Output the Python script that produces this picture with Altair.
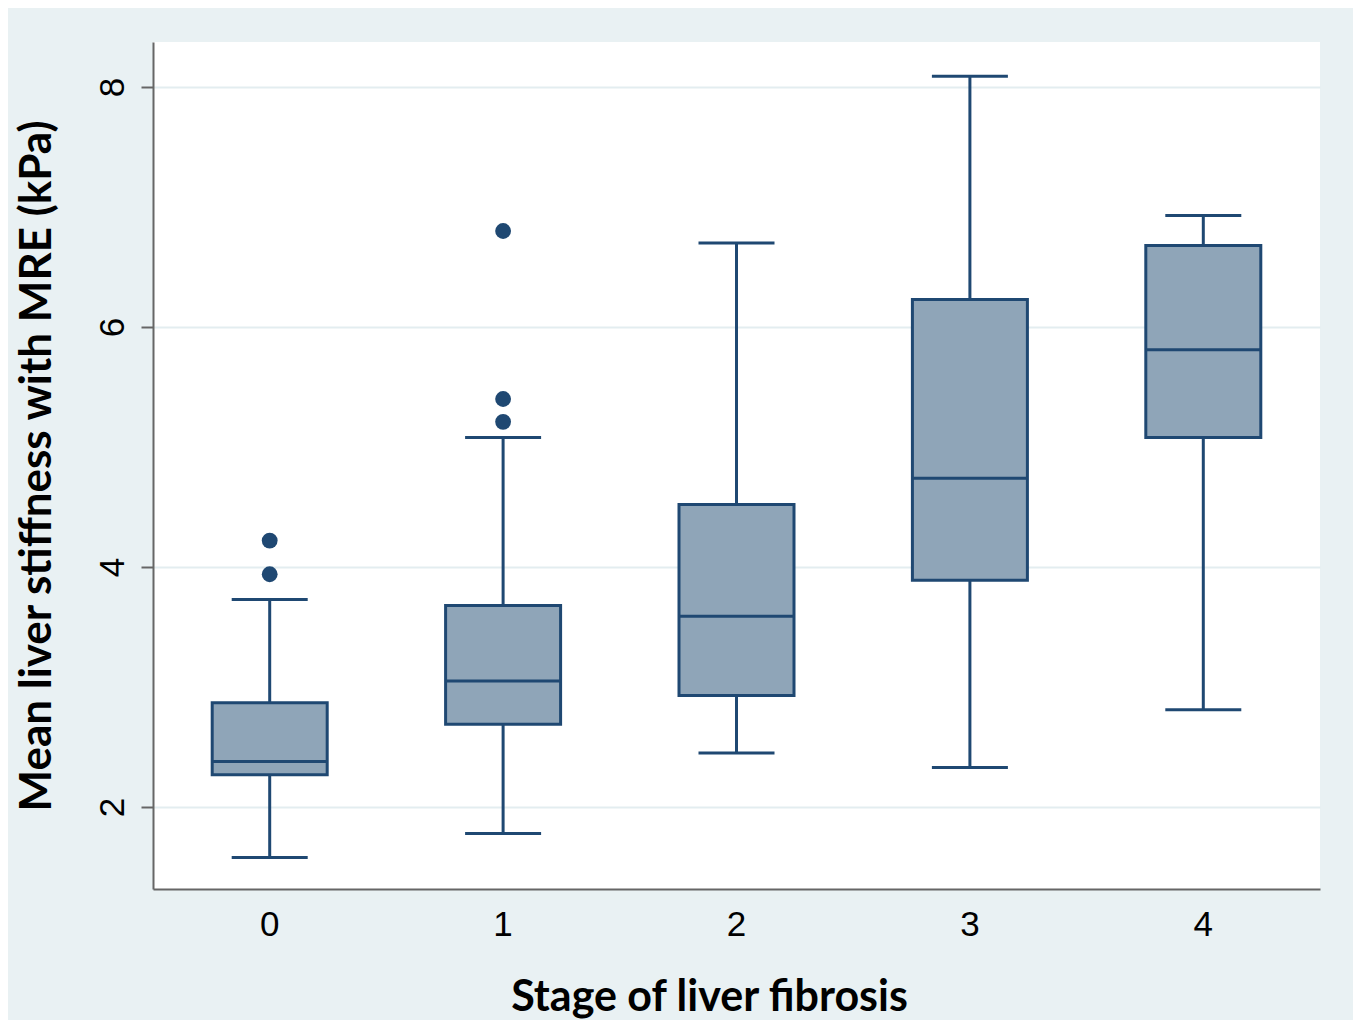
import altair as alt
import pandas as pd

# ---- data ----
stages = ["0", "1", "2", "3", "4"]
whisker_low = [1.58, 1.78, 2.45, 2.33, 2.81]
q1 = [2.27, 2.69, 2.93, 3.89, 5.08]
median = [2.38, 3.05, 3.59, 4.74, 5.81]
q3 = [2.87, 3.68, 4.52, 6.23, 6.68]
whisker_high = [3.73, 5.08, 6.70, 8.09, 6.93]

outlier_stage = ["0", "0", "1", "1", "1"]
outlier_value = [3.94, 4.22, 5.21, 5.40, 6.80]

y_ticks = [2, 4, 6, 8]

box_df = pd.DataFrame({
    "stage": stages, "low": whisker_low, "q1": q1,
    "median": median, "q3": q3, "high": whisker_high,
})
out_df = pd.DataFrame({"stage": outlier_stage, "value": outlier_value})

DARK = "#1f4872"
FILL = "#8fa5b8"
TITLE_FONT = "Lato"

x_enc = alt.X(
    "stage:N",
    scale=alt.Scale(type="band", domain=stages, paddingInner=0, paddingOuter=0),
    axis=alt.Axis(
        title="Stage of liver fibrosis", labelAngle=0, ticks=False,
        labelFontSize=35, labelFont="Liberation Sans", labelColor="#000000",
        labelPadding=18, titleFontSize=43, titleFont=TITLE_FONT,
        titleFontWeight="bold", titleColor="#000000", titlePadding=34,
        titleX=556, titleAlign="center",
        domainColor="#666666", domainWidth=2, grid=False,
    ),
)
y_scale = alt.Scale(domain=[1.317, 8.375], nice=False, zero=False)
y_axis = alt.Axis(
    title="Mean liver stiffness with MRE (kPa)", values=y_ticks, format="d",
    labelAngle=270, labelAlign="center", labelBaseline="bottom",
    labelFontSize=35, labelFont="Liberation Sans", labelColor="#000000",
    labelPadding=11, tickSize=12, tickWidth=2, tickColor="#666666",
    domainColor="#666666", domainWidth=2,
    gridColor="#e3edf0", gridWidth=2,
    titleFontSize=44, titleFont=TITLE_FONT, titleFontWeight="bold",
    titleColor="#000000", titlePadding=36,
)

base = alt.Chart(box_df).encode(x=x_enc)

whisk_lo = base.mark_rule(color=DARK, strokeWidth=3).encode(
    y=alt.Y("low:Q", scale=y_scale, axis=y_axis), y2="q1:Q")
whisk_hi = base.mark_rule(color=DARK, strokeWidth=3).encode(
    y=alt.Y("q3:Q", scale=y_scale), y2="high:Q")
box = base.mark_bar(size=115, fill=FILL, stroke=DARK, strokeWidth=3).encode(
    y=alt.Y("q1:Q", scale=y_scale), y2="q3:Q")
med = base.mark_tick(size=115, thickness=3, color=DARK, opacity=1).encode(
    y=alt.Y("median:Q", scale=y_scale))
cap_lo = base.mark_tick(size=76, thickness=3, color=DARK, opacity=1).encode(
    y=alt.Y("low:Q", scale=y_scale))
cap_hi = base.mark_tick(size=76, thickness=3, color=DARK, opacity=1).encode(
    y=alt.Y("high:Q", scale=y_scale))
outs = alt.Chart(out_df).mark_circle(size=250, color=DARK, opacity=1).encode(
    x=alt.X("stage:N", scale=alt.Scale(type="band", domain=stages,
                                        paddingInner=0, paddingOuter=0)),
    y=alt.Y("value:Q", scale=y_scale),
)

chart = alt.layer(whisk_lo, whisk_hi, box, med, cap_lo, cap_hi, outs).properties(
    width=1167, height=847,
    autosize=alt.AutoSizeParams(type="none"),
    padding={"left": 145, "top": 34, "right": 33, "bottom": 131},
    background="#e9f1f3",
).configure_view(fill="white", stroke=None)

chart.save("out.html", embed_options={"renderer": "svg", "actions": False})
